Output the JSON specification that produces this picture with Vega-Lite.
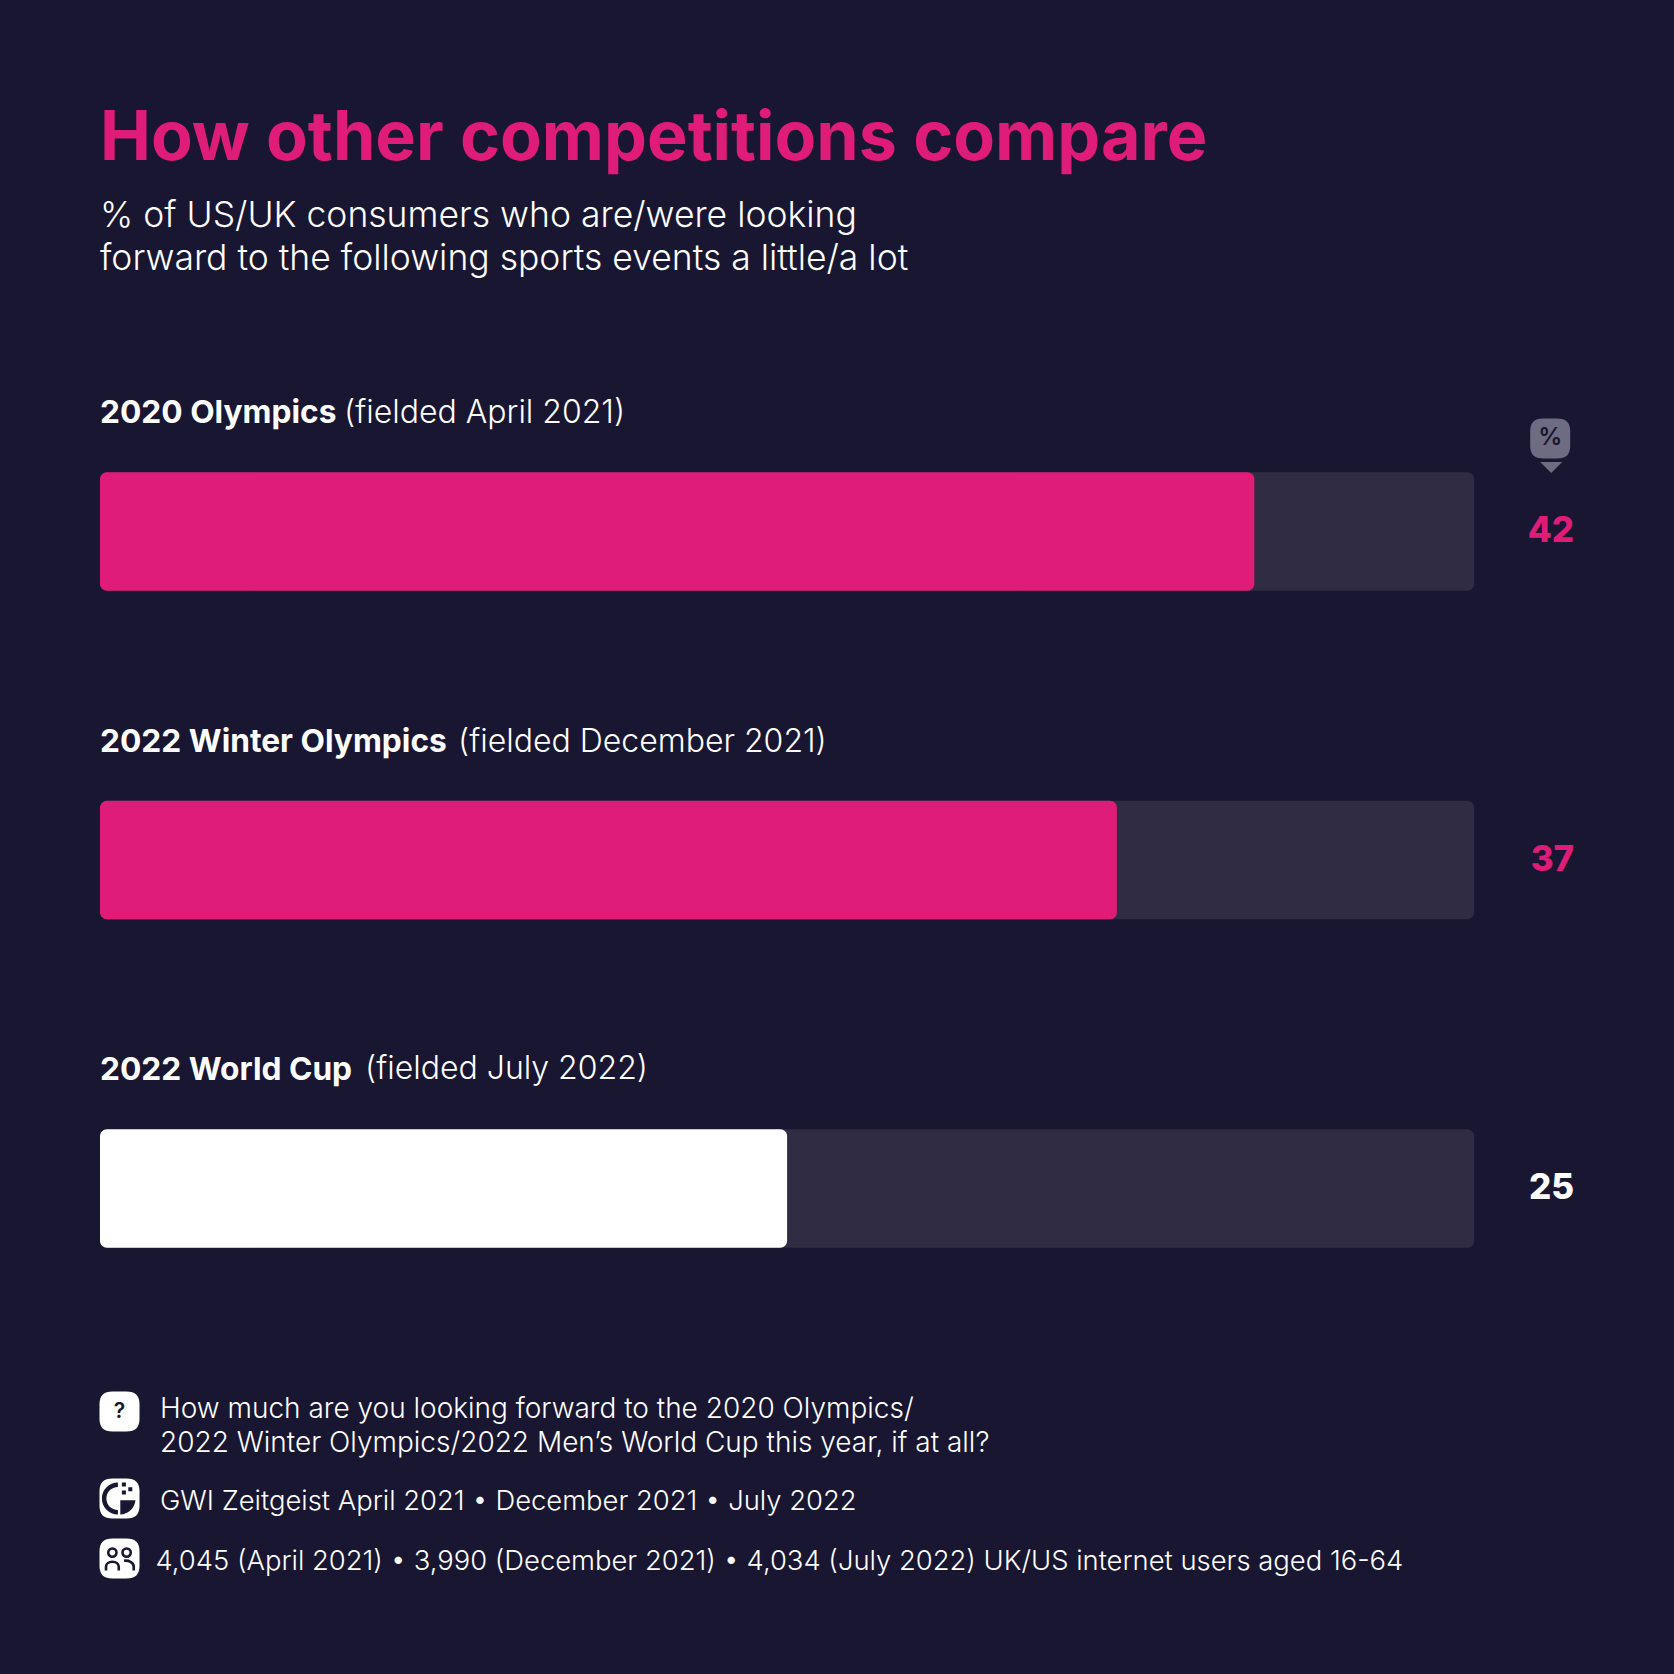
{
"$schema":"https://vega.github.io/schema/vega-lite/v6.json",
"width":1574,"height":986,
"autosize":{"type":"none"},
"padding":{"left":100,"right":0,"top":367,"bottom":321},
"background":"#191632",
"view":{"stroke":null},
"config":{"text":{"font":"Inter"}},
"title":{"text":"How other competitions compare","subtitle":["% of US/UK consumers who are/were looking","forward to the following sports events a little/a lot"],"anchor":"start","frame":"group","align":"left","baseline":"top","offset":88.5,"font":"Inter","fontSize":68.2,"fontWeight":700,"color":"#DF1C77","subtitleFont":"Inter","subtitleFontSize":35.5,"subtitleFontWeight":300,"subtitleColor":"#FFFFFF","subtitleLineHeight":43,"subtitlePadding":25},
"data":{"values":[
{"event":"2020 Olympics","fielded":"(fielded April 2021)","value":42,"track":50,"tone":"above"},
{"event":"2022 Winter Olympics","fielded":"(fielded December 2021)","value":37,"track":50,"tone":"above"},
{"event":"2022 World Cup","fielded":"(fielded July 2022)","value":25,"track":50,"tone":"base"}
]},
"encoding":{"y":{"field":"event","type":"nominal","sort":null,"axis":null,"scale":{"paddingInner":0.639,"paddingOuter":0.32}}},
"layer":[
{"mark":{"type":"bar","color":"#302C43","cornerRadius":7},"encoding":{"x":{"field":"track","type":"quantitative","stack":null,"axis":null,"scale":{"domain":[0,57.27],"nice":false,"zero":false}}}},
{"mark":{"type":"bar","cornerRadius":7},"encoding":{"x":{"field":"value","type":"quantitative","stack":null},"color":{"field":"tone","type":"nominal","legend":null,"scale":{"domain":["above","base"],"range":["#DF1C77","#FFFFFF"]}}}},
{"mark":{"type":"text","align":"right","baseline":"alphabetic","font":"Inter","fontSize":35,"fontWeight":800,"dx":100,"dy":10.5},"encoding":{"x":{"field":"track","type":"quantitative"},"text":{"field":"value","type":"quantitative"},"color":{"field":"tone","type":"nominal","legend":null}}},
{"mark":{"type":"text","align":"left","baseline":"alphabetic","font":"Inter","fontSize":31.7,"fontWeight":700,"color":"#FFFFFF","dy":-108.5},"encoding":{"x":{"datum":0},"text":{"field":"event"}}},
{"transform":[{"filter":"datum.event==='2020 Olympics'"}],"mark":{"type":"text","align":"left","baseline":"alphabetic","font":"Inter","fontSize":32,"fontWeight":300,"color":"#FFFFFF","dy":-108,"dx":244},"encoding":{"x":{"datum":0},"text":{"field":"fielded"}}},
{"transform":[{"filter":"datum.event==='2022 Winter Olympics'"}],"mark":{"type":"text","align":"left","baseline":"alphabetic","font":"Inter","fontSize":32,"fontWeight":300,"color":"#FFFFFF","dy":-108,"dx":358},"encoding":{"x":{"datum":0},"text":{"field":"fielded"}}},
{"transform":[{"filter":"datum.event==='2022 World Cup'"}],"mark":{"type":"text","align":"left","baseline":"alphabetic","font":"Inter","fontSize":32,"fontWeight":300,"color":"#FFFFFF","dy":-110,"dx":265},"encoding":{"x":{"datum":0},"text":{"field":"fielded"}}},
{"transform":[{"filter":"datum.event==='2020 Olympics'"}],"mark":{"type":"point","filled":true,"opacity":1,"color":"#6E6C82","size":1600,"shape":"M-0.35,-1H0.35C0.8,-1 1,-0.8 1,-0.35V0.35C1,0.8 0.8,1 0.35,1H-0.35C-0.8,1 -1,0.8 -1,0.35V-0.35C-1,-0.8 -0.8,-1 -0.35,-1Z","xOffset":76,"yOffset":-93},"encoding":{"x":{"field":"track","type":"quantitative"}}},
{"transform":[{"filter":"datum.event==='2020 Olympics'"}],"mark":{"type":"point","filled":true,"opacity":1,"color":"#6E6C82","size":484,"shape":"M-1,-0.5L1,-0.5L0,0.5Z","xOffset":77,"yOffset":-64},"encoding":{"x":{"field":"track","type":"quantitative"}}},
{"transform":[{"filter":"datum.event==='2020 Olympics'"}],"mark":{"type":"text","align":"center","baseline":"middle","font":"Inter","fontSize":24,"fontWeight":600,"color":"#191632","dx":76,"dy":-93,"text":"%"},"encoding":{"x":{"field":"track","type":"quantitative"}}},
{"transform":[{"filter":"datum.event==='2022 World Cup'"}],"layer":[
{"mark":{"type":"point","filled":true,"opacity":1,"color":"#FFFFFF","size":1600,"shape":"M-0.35,-1H0.35C0.8,-1 1,-0.8 1,-0.35V0.35C1,0.8 0.8,1 0.35,1H-0.35C-0.8,1 -1,0.8 -1,0.35V-0.35C-1,-0.8 -0.8,-1 -0.35,-1Z","xOffset":19.5,"yOffset":223},"encoding":{"x":{"datum":0}}},
{"mark":{"type":"point","filled":true,"opacity":1,"color":"#FFFFFF","size":1600,"shape":"M-0.35,-1H0.35C0.8,-1 1,-0.8 1,-0.35V0.35C1,0.8 0.8,1 0.35,1H-0.35C-0.8,1 -1,0.8 -1,0.35V-0.35C-1,-0.8 -0.8,-1 -0.35,-1Z","xOffset":19.5,"yOffset":310},"encoding":{"x":{"datum":0}}},
{"mark":{"type":"point","filled":true,"opacity":1,"color":"#FFFFFF","size":1600,"shape":"M-0.35,-1H0.35C0.8,-1 1,-0.8 1,-0.35V0.35C1,0.8 0.8,1 0.35,1H-0.35C-0.8,1 -1,0.8 -1,0.35V-0.35C-1,-0.8 -0.8,-1 -0.35,-1Z","xOffset":19.5,"yOffset":370},"encoding":{"x":{"datum":0}}},
{"mark":{"type":"text","align":"center","baseline":"middle","font":"Inter","fontSize":21,"fontWeight":600,"color":"#191632","dx":19.5,"dy":223,"text":"?"},"encoding":{"x":{"datum":0}}},
{"mark":{"type":"point","filled":true,"opacity":1,"color":"#191632","size":1024,"shape":"M-0.1,-1A1,1 0 1 0 -0.1,1V0.72A0.72,0.72 0 0 1 -0.1,-0.72ZM0.05,0.1V1A1,1 0 0 0 1,0.1ZM0.15,-1H0.4V-0.75H0.15ZM0.55,-0.7H0.8V-0.45H0.55ZM0.15,-0.5H0.4V-0.25H0.15Z","xOffset":19.5,"yOffset":310},"encoding":{"x":{"datum":0}}},
{"mark":{"type":"point","filled":false,"opacity":1,"color":"#191632","strokeWidth":2.6,"size":900,"shape":"M-0.9,0.8V0.55C-0.9,0.1 -0.05,0.1 -0.05,0.55V0.8M0.3,0.15C0.6,0.1 0.95,0.25 0.95,0.55V0.8M-0.75,-0.4A0.27,0.27 0 1 0 -0.2,-0.4A0.27,0.27 0 1 0 -0.75,-0.4M0.2,-0.4A0.27,0.27 0 1 0 0.75,-0.4A0.27,0.27 0 1 0 0.2,-0.4","xOffset":19.5,"yOffset":370},"encoding":{"x":{"datum":0}}},
{"mark":{"type":"text","align":"left","baseline":"alphabetic","font":"Inter","fontSize":28,"fontWeight":300,"color":"#FFFFFF","dx":60,"dy":229,"text":"How much are you looking forward to the 2020 Olympics/"},"encoding":{"x":{"datum":0}}},
{"mark":{"type":"text","align":"left","baseline":"alphabetic","font":"Inter","fontSize":28,"fontWeight":300,"color":"#FFFFFF","dx":60,"dy":263,"text":"2022 Winter Olympics/2022 Men’s World Cup this year, if at all?"},"encoding":{"x":{"datum":0}}},
{"mark":{"type":"text","align":"left","baseline":"alphabetic","font":"Inter","fontSize":27.4,"fontWeight":300,"color":"#FFFFFF","dx":60,"dy":321,"text":"GWI Zeitgeist April 2021 • December 2021 • July 2022"},"encoding":{"x":{"datum":0}}},
{"mark":{"type":"text","align":"left","baseline":"alphabetic","font":"Inter","fontSize":27.4,"fontWeight":300,"color":"#FFFFFF","dx":55.5,"dy":381,"text":"4,045 (April 2021) • 3,990 (December 2021) • 4,034 (July 2022) UK/US internet users aged 16-64"},"encoding":{"x":{"datum":0}}}
]}
]
}
